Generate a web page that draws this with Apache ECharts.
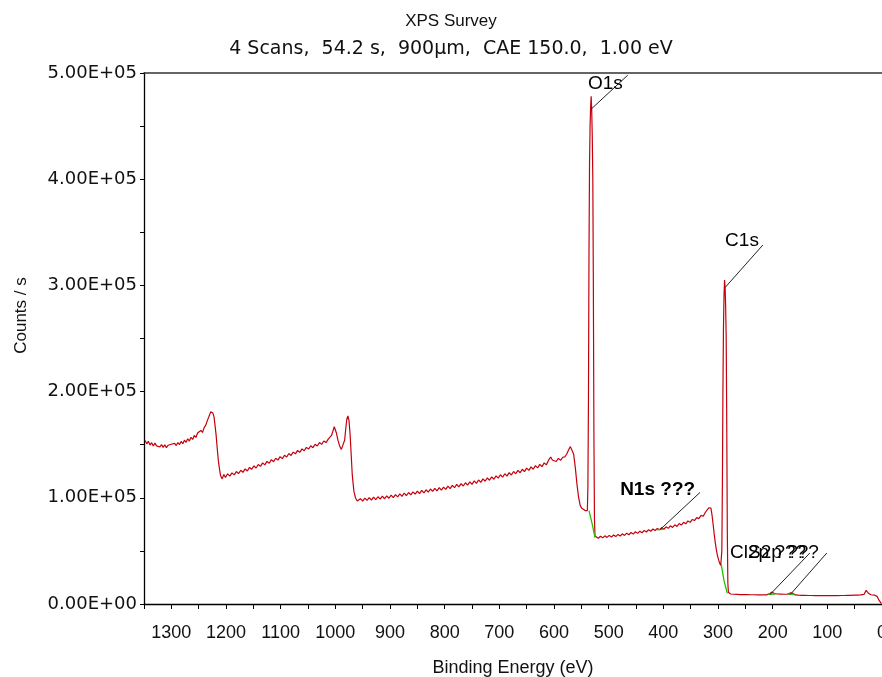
<!DOCTYPE html>
<html>
<head>
<meta charset="utf-8">
<title>XPS Survey</title>
<script src="https://cdn.jsdelivr.net/npm/echarts@6/dist/echarts.min.js"></script>
<style>
  html, body { margin: 0; padding: 0; background: #fff; }
  #chart { width: 882px; height: 677px; }
</style>
</head>
<body>
<div id="chart"></div>
<script>
// survey scan, [binding energy eV, counts/s in thousands]
const surveyScan = [
  [1348, 154.0], [1345, 150.8], [1342, 153.2], [1339, 149.6], [1336, 151.9], [1333, 148.7],
  [1330, 151.5], [1327, 148.9], [1324, 150.6], [1321, 147.8], [1318, 150.2], [1315, 147.5],
  [1312, 149.9], [1309, 147.2], [1306, 149.5], [1303, 147.9], [1300, 150.4], [1297, 148.6],
  [1294, 151.3], [1291, 149.2], [1288, 152.0], [1285, 150.1], [1282, 153.1], [1279, 151.0],
  [1276, 154.2], [1273, 152.3], [1270, 155.6], [1267, 153.4], [1264, 157.0], [1261, 154.9],
  [1258, 158.7], [1255, 156.8], [1252, 161.0], [1249, 159.2], [1246, 163.4], [1243, 161.5],
  [1240, 166.1], [1237, 168.4], [1234, 172.9], [1231, 176.8], [1228, 180.9], [1226, 181.6],
  [1224, 179.8], [1222, 176.4], [1220, 168.0], [1218, 158.5], [1216, 146.2], [1214, 135.0],
  [1212, 127.4], [1210, 121.1], [1207, 117.8], [1204, 121.9], [1201, 119.2],
  [1197, 122.6], [1193, 120.4], [1189, 123.5], [1185, 121.6], [1181, 124.8], [1177, 122.7],
  [1173, 125.9], [1169, 124.0], [1165, 127.3], [1161, 125.2], [1157, 128.6], [1153, 126.9],
  [1149, 130.0], [1145, 128.1], [1141, 131.4], [1137, 129.6], [1133, 132.9], [1129, 131.0],
  [1125, 134.3], [1121, 132.5], [1117, 135.9], [1113, 134.0], [1109, 137.2], [1105, 135.5],
  [1101, 138.8], [1097, 136.9], [1093, 140.1], [1089, 138.4], [1085, 141.7], [1081, 139.9],
  [1077, 143.0], [1073, 141.4], [1069, 144.6], [1065, 142.8], [1061, 146.1], [1057, 144.3],
  [1053, 147.5], [1049, 145.9], [1045, 149.0], [1041, 147.2], [1037, 150.4], [1033, 148.8],
  [1029, 152.0], [1025, 150.3], [1021, 153.5], [1017, 152.0], [1013, 155.2], [1010, 156.4],
  [1007, 158.7], [1004, 163.5], [1002, 166.9], [1000, 166.2], [998, 161.0], [995, 153.8],
  [992, 148.6], [989, 145.6], [986, 147.3], [983, 154.2], [981, 164.8], [979, 174.0],
  [977, 177.2], [975, 172.6], [973, 160.0], [971, 140.5], [969, 121.3], [966, 106.0],
  [963, 99.8], [960, 96.9], [957, 98.3],
  [954, 99.2], [950, 96.9], [946, 99.7], [942, 97.5], [938, 100.1], [934, 97.9],
  [930, 100.6], [926, 98.2], [922, 101.0], [918, 98.8], [914, 101.5], [910, 99.1],
  [906, 101.9], [902, 99.6], [898, 102.5], [894, 100.1], [890, 103.0], [886, 100.9],
  [882, 103.7], [878, 101.4], [874, 104.5], [870, 102.1], [866, 105.0], [862, 102.8],
  [858, 105.6], [854, 103.4], [850, 106.3], [846, 104.0], [842, 107.0], [838, 104.6],
  [834, 107.6], [830, 105.4], [826, 108.3], [822, 106.0], [818, 108.9], [814, 106.6],
  [810, 109.5], [806, 107.3], [802, 110.1], [798, 107.9], [794, 111.0], [790, 108.7],
  [786, 111.7], [782, 109.5], [778, 112.6], [774, 110.3], [770, 113.3], [766, 111.1],
  [762, 114.2], [758, 111.9], [754, 115.0], [750, 112.7], [746, 115.9], [742, 113.6],
  [738, 116.8], [734, 114.5], [730, 117.8], [726, 115.6], [722, 118.7], [718, 116.5],
  [714, 119.7], [710, 117.5], [706, 120.6], [702, 118.5], [698, 121.7], [694, 119.4],
  [690, 122.7], [686, 120.4], [682, 123.7], [678, 121.5], [674, 124.8], [670, 122.6],
  [666, 125.8], [662, 123.6], [658, 126.9], [654, 124.6], [650, 127.9], [646, 125.8],
  [642, 129.1], [638, 126.9], [634, 130.3], [630, 128.1], [626, 131.5], [622, 129.3],
  [618, 132.9], [614, 131.0], [610, 135.4], [606, 138.4], [603, 135.6], [600, 136.0],
  [596, 134.2], [592, 137.1], [588, 135.3], [584, 138.2], [580, 138.6], [576, 142.0],
  [573, 145.4], [570, 148.2], [567, 146.8], [564, 141.0], [561, 128.4], [558, 112.7],
  [555, 100.3], [552, 92.6], [549, 90.1], [546, 89.4], [543, 88.0], [541, 87.2], [539, 88],
  [538, 110], [537, 190], [536, 330], [535, 415], [534, 450], [533, 468], [532, 478],
  [531, 465], [530, 440], [529, 400], [528, 300], [527, 160], [526, 80], [525, 64],
  [523, 63.4], [519, 61.9], [515, 63.8], [511, 62.3], [507, 64.2], [503, 62.7],
  [499, 64.6], [495, 63.0], [491, 65.0], [487, 63.5], [483, 65.5], [479, 64.0],
  [475, 66.1], [471, 64.6], [467, 66.7], [463, 65.2], [459, 67.3], [455, 65.8],
  [451, 68.0], [447, 66.5], [443, 68.6], [439, 67.1], [435, 69.3], [431, 67.8],
  [427, 70.0], [423, 68.5], [419, 70.6], [415, 69.2], [411, 71.2], [407, 69.9],
  [403, 71.9], [399, 70.4], [395, 72.7], [391, 71.2], [387, 73.6], [383, 72.1],
  [379, 74.6], [375, 73.0], [371, 75.7], [367, 74.3], [363, 76.9], [359, 75.5],
  [355, 78.2], [351, 76.9], [347, 79.6], [343, 78.6], [339, 81.3], [335, 80.4],
  [331, 83.4], [327, 82.6], [323, 86.4], [320, 87.2], [317, 90.6], [315, 92.4],
  [313, 90.2], [311, 84.0], [309, 75.5], [307, 66.0], [305, 57.8], [303, 51.0],
  [301, 45.6], [299, 41.8], [297, 38.5], [295, 36.2], [294, 37],
  [293, 50], [292, 110], [291, 200], [290, 260], [289, 290], [288, 305], [287, 298],
  [286, 280], [285, 250], [284, 170], [283, 70], [282, 20], [281, 11], [280, 10.2],
  [277, 9.4], [274, 10.3], [271, 9.2], [268, 10.0], [265, 9.1], [262, 9.9],
  [259, 8.9], [256, 9.8], [253, 8.9], [250, 9.7], [247, 8.8], [244, 9.6],
  [241, 8.7], [238, 9.5], [235, 8.7], [232, 9.4], [229, 8.6], [226, 9.3],
  [223, 8.6], [220, 9.2], [217, 8.5], [214, 9.2], [211, 8.6], [208, 9.4],
  [205, 9.9], [203, 10.6], [201, 11.4], [199, 10.8], [197, 9.7], [194, 8.8],
  [191, 9.4], [188, 8.6], [185, 9.3], [182, 8.5], [179, 9.2], [176, 8.6],
  [173, 9.3], [170, 9.6], [168, 10.4], [166, 11.2], [164, 10.3], [162, 9.1],
  [159, 8.5], [156, 9.1], [153, 8.3], [150, 9.0], [147, 8.2], [144, 8.9],
  [141, 8.1], [138, 8.8], [135, 8.0], [132, 8.7], [129, 8.0], [126, 8.6],
  [123, 7.9], [120, 8.6], [117, 7.9], [114, 8.5], [111, 7.8], [108, 8.5],
  [105, 7.8], [102, 8.4], [99, 7.8], [96, 8.5], [93, 7.8], [90, 8.4],
  [87, 7.9], [84, 8.6], [81, 7.9], [78, 8.6], [75, 8.0], [72, 8.7],
  [69, 8.0], [66, 8.8], [63, 8.1], [60, 8.8], [57, 8.2], [54, 8.9],
  [51, 8.3], [48, 9.0], [45, 8.4], [42, 9.1], [39, 8.6], [36, 9.4],
  [33, 9.0], [31, 10.6], [29, 12.8], [28, 13.9], [27, 12.4], [25, 10.2],
  [23, 9.4], [20, 8.7], [17, 9.1], [14, 8.4], [11, 8.6], [9, 7.2],
  [7, 5.2], [5, 3.1], [3, 1.5], [1, 0.4]
];

// green background fits under the peaks
const backgroundFits = [
  [[536, 88], [530, 75], [525, 62.5]],
  [[412, 69.8], [400, 70.6]],
  [[294, 37], [289, 22], [283, 10]],
  [[208, 9.2], [196, 9.4]],
  [[172, 9.3], [160, 9.1]]
];

// peak annotations: label text, where the leader meets the curve, leader end, text start
const peakNames = ['O1s', 'C1s', 'N1s ???', 'Cl2p ???', 'S2p ???'];
const peakAnchors = [[532, 466], [287, 298], [406, 70], [205, 8.8], [168, 8.8]];
const leaderEnds = [[465, 498], [218, 338], [333, 105], [132, 48], [101, 48]];
const labelSpots = [[538, 490], [287, 342], [479, 108], [278, 48], [245, 48]];

const K = 1000;
const toCounts = pts => pts.map(p => [p[0], p[1] * K]);

function sciLabel(v) {
  if (v % 100000 !== 0) return '';
  if (v === 0) return '0.00E+00';
  const e = Math.floor(Math.log10(v));
  const m = v / Math.pow(10, e);
  return m.toFixed(2) + 'E+' + String(e).padStart(2, '0');
}

const font = 'Liberation Sans, Arial, sans-serif';
const wideFont = 'DejaVu Sans, Verdana, sans-serif';

const chart = echarts.init(document.getElementById('chart'));

const series = [{
  type: 'line',
  data: toCounts(surveyScan),
  symbol: 'none',
  lineStyle: { color: '#c4000c', width: 1.2 },
  silent: true,
  z: 2
}];

backgroundFits.forEach(seg => {
  series.push({
    type: 'line',
    data: toCounts(seg),
    symbol: 'none',
    lineStyle: { color: '#22c000', width: 1.3 },
    silent: true,
    z: 3
  });
});

peakNames.forEach((n, i) => {
  series.push({
    type: 'line',
    data: toCounts([peakAnchors[i], leaderEnds[i]]),
    symbol: 'none',
    lineStyle: { color: '#222', width: 1 },
    silent: true,
    z: 4
  });
});

series.push({
  type: 'scatter',
  symbolSize: 0,
  itemStyle: { color: '#000' },
  silent: true,
  z: 5,
  data: peakNames.map((n, i) => ({
    name: n,
    value: [labelSpots[i][0], labelSpots[i][1] * K],
    label: { fontWeight: i === 2 ? 'bold' : 'normal' }
  })),
  label: {
    show: true,
    position: 'right',
    distance: 0,
    formatter: '{b}',
    color: '#000',
    opacity: 1,
    fontFamily: font,
    fontSize: 19
  }
});

const option = {
  backgroundColor: '#fff',
  animation: false,
  title: {
    text: 'XPS Survey',
    subtext: '4 Scans,  54.2 s,  900µm,  CAE 150.0,  1.00 eV',
    left: 446,
    top: 8,
    textAlign: 'center',
    itemGap: 10,
    textStyle: { fontFamily: font, fontSize: 17, fontWeight: 'normal', color: '#111' },
    subtextStyle: { fontFamily: wideFont, fontSize: 19, color: '#111' }
  },
  grid: { left: 144, right: 0, top: 73, bottom: 73, outerBoundsMode: 'none' },
  xAxis: [{
    type: 'value',
    inverse: true,
    min: 0,
    max: 1350,
    interval: 50,
    name: 'Binding Energy (eV)',
    nameLocation: 'middle',
    nameGap: 55,
    nameTextStyle: { fontFamily: font, fontSize: 18, color: '#111' },
    axisLine: { show: true, onZero: false, lineStyle: { color: '#000', width: 1.3 } },
    axisTick: { show: true, inside: false, length: 5, lineStyle: { color: '#000' } },
    axisLabel: {
      margin: 20,
      fontFamily: font,
      fontSize: 18,
      color: '#111',
      formatter: v => (v % 100 === 0 ? String(v) : '')
    },
    splitLine: { show: false }
  }, {
    type: 'value',
    inverse: true,
    min: 0,
    max: 1350,
    position: 'top',
    axisLine: { show: true, onZero: false, lineStyle: { color: '#333', width: 1.5 } },
    axisTick: { show: false },
    axisLabel: { show: false },
    splitLine: { show: false }
  }],
  yAxis: {
    type: 'value',
    position: 'left',
    min: 0,
    max: 500000,
    interval: 50000,
    name: 'Counts / s',
    nameLocation: 'middle',
    nameGap: 114,
    nameTextStyle: { fontFamily: font, fontSize: 17, color: '#111', padding: [0, 0, 0, 46] },
    axisLine: { show: true, onZero: false, lineStyle: { color: '#000', width: 1.3 } },
    axisTick: { show: true, inside: false, length: 4, lineStyle: { color: '#000' } },
    axisLabel: { margin: 7, fontFamily: wideFont, fontSize: 18, color: '#111', formatter: sciLabel },
    splitLine: { show: false }
  },
  series: series
};

chart.setOption(option);
</script>
</body>
</html>
